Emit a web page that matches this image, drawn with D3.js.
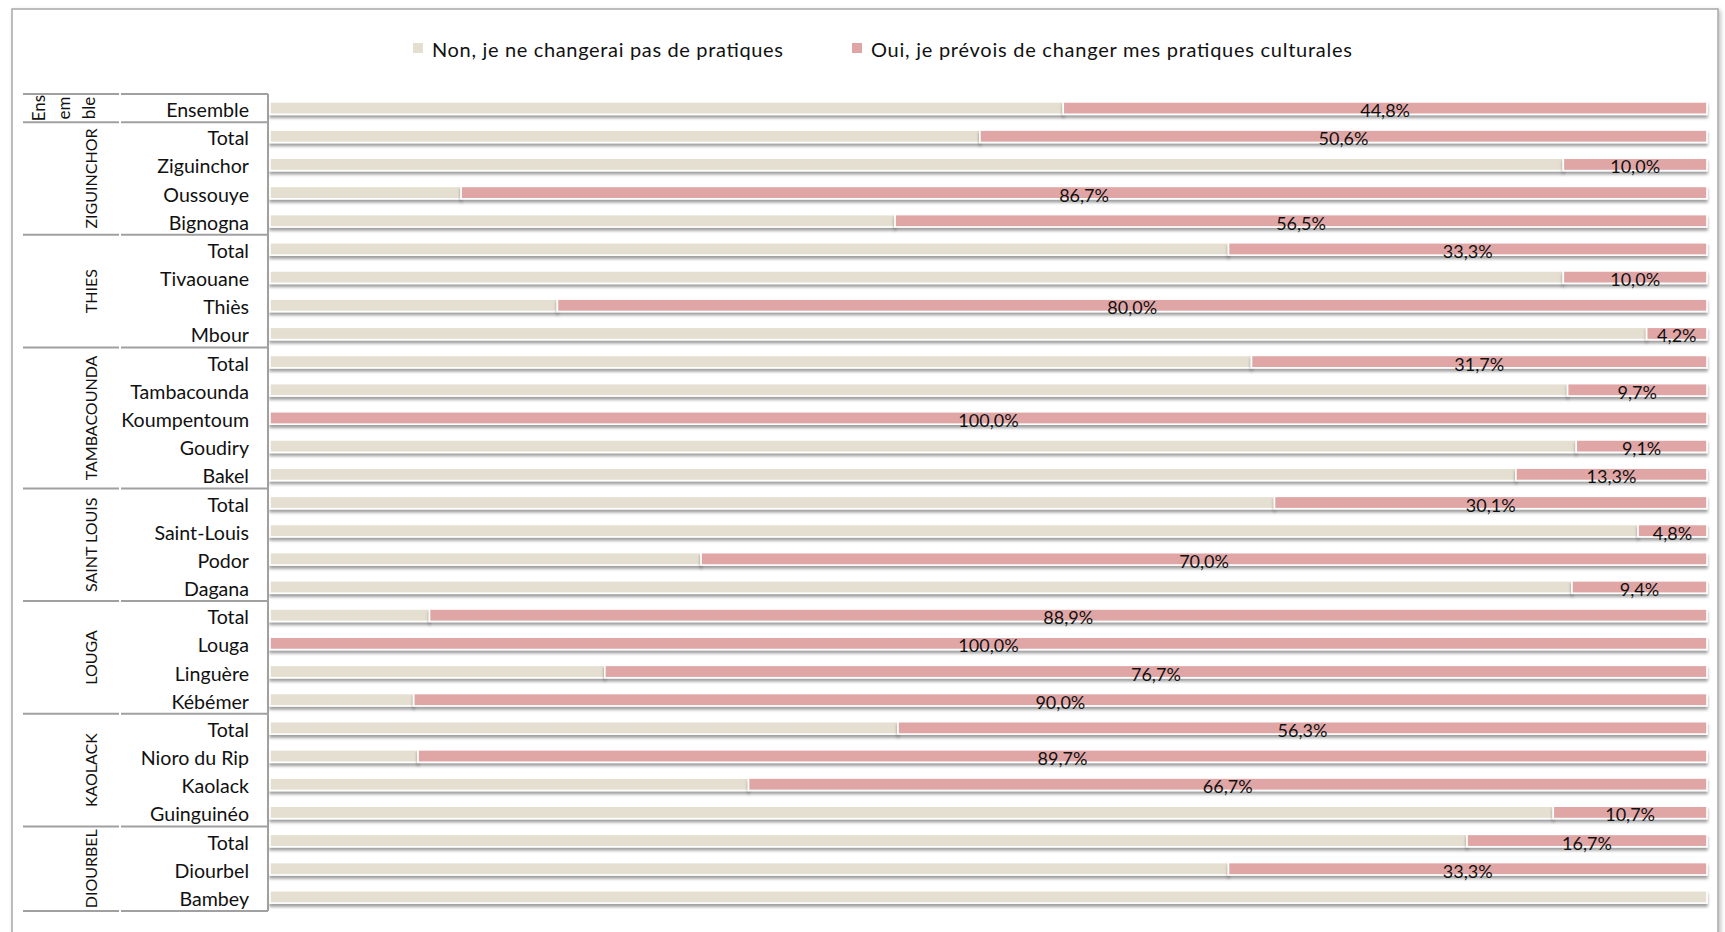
<!DOCTYPE html>
<html><head><meta charset="utf-8">
<script src="https://cdn.jsdelivr.net/npm/d3@7"></script>
<style>
html,body{margin:0;padding:0;background:#fff;}
text{font-family:Lato,"Liberation Sans",sans-serif;fill:#111;}
</style></head>
<body>
<svg id="chart" width="1725" height="932"></svg>
<script>
const seriesNames = ["Non, je ne changerai pas de pratiques", "Oui, je prévois de changer mes pratiques culturales"];
const seriesColors = ["#E4DFD0", "#E0A6A6"];
const groupNames = [["Ens","em","ble"], ["ZIGUINCHOR"], ["THIES"], ["TAMBACOUNDA"], ["SAINT LOUIS"], ["LOUGA"], ["KAOLACK"], ["DIOURBEL"]];
const groupSizes = [1, 4, 4, 5, 4, 4, 4, 3];
const categories = ["Ensemble",
  "Total","Ziguinchor","Oussouye","Bignogna",
  "Total","Tivaouane","Thiès","Mbour",
  "Total","Tambacounda","Koumpentoum","Goudiry","Bakel",
  "Total","Saint-Louis","Podor","Dagana",
  "Total","Louga","Linguère","Kébémer",
  "Total","Nioro du Rip","Kaolack","Guinguinéo",
  "Total","Diourbel","Bambey"];
const nonValues = [55.2,
  49.4,90.0,13.3,43.5,
  66.7,90.0,20.0,95.8,
  68.3,90.3,0.0,90.9,86.7,
  69.9,95.2,30.0,90.6,
  11.1,0.0,23.3,10.0,
  43.7,10.3,33.3,89.3,
  83.3,66.7,100.0];
const ouiValues = [44.8,
  50.6,10.0,86.7,56.5,
  33.3,10.0,80.0,4.2,
  31.7,9.7,100.0,9.1,13.3,
  30.1,4.8,70.0,9.4,
  88.9,100.0,76.7,90.0,
  56.3,89.7,66.7,10.7,
  16.7,33.3,0.0];

const svg = d3.select("#chart");
const defs = svg.append("defs");
const f = defs.append("filter").attr("id","sh").attr("x","-5%").attr("y","-50%").attr("width","110%").attr("height","250%");
f.append("feDropShadow").attr("dx",0).attr("dy",3).attr("stdDeviation",1.6).attr("flood-color","#000").attr("flood-opacity",0.38);
const f2 = defs.append("filter").attr("id","fsh").attr("x","-5%").attr("y","-5%").attr("width","110%").attr("height","110%");
f2.append("feDropShadow").attr("dx",2).attr("dy",2).attr("stdDeviation",2).attr("flood-color","#000").attr("flood-opacity",0.25);

// frame
svg.append("rect").attr("x",12).attr("y",9).attr("width",1706).attr("height",960)
  .attr("fill","#fff").attr("stroke","#a8a8a8").attr("stroke-width",1.5).attr("filter","url(#fsh)");

const idx = categories.map((d,i)=>i);
const top0 = 94, bottom0 = 911;
const y = d3.scaleBand().domain(idx).range([top0, bottom0]).paddingInner(0.56).paddingOuter(0.28);
const x = d3.scaleLinear().domain([0,100]).range([270, 1707]);

// stacked data
const rows = idx.map(i => ({i, non: nonValues[i], oui: ouiValues[i]}));
const stack = d3.stack().keys(["non","oui"])(rows);

const barsG = svg.append("g");
stack.forEach((layer, k) => {
  barsG.append("g").attr("fill", seriesColors[k]).selectAll("rect")
    .data(layer.filter(d => d[1]-d[0] > 0))
    .join("rect")
    .attr("x", d => x(d[0]))
    .attr("y", d => y(d.data.i))
    .attr("width", d => x(d[1]) - x(d[0]))
    .attr("height", y.bandwidth())
    .attr("stroke","#fff").attr("stroke-width",1.6)
    .attr("filter","url(#sh)");
});

// data labels for Oui
const fmt = v => v.toFixed(1).replace(".", ",") + "%";
svg.append("g").selectAll("text")
  .data(stack[1].filter(d => d[1]-d[0] > 0))
  .join("text")
  .attr("x", d => (x(d[0]) + x(d[1]))/2)
  .attr("y", d => y(d.data.i) + y.bandwidth()/2 + 2)
  .attr("text-anchor","middle").attr("dominant-baseline","central")
  .attr("font-size",18)
  .text(d => fmt(d[1]-d[0]));

// category labels
svg.append("g").selectAll("text").data(idx).join("text")
  .attr("x", 249)
  .attr("y", i => y(i) + y.bandwidth()/2 + 1.5)
  .attr("text-anchor","end").attr("dominant-baseline","central")
  .attr("font-size",19.6)
  .text(i => categories[i]);

// table lines
const lineColor = "#a0a0a0";
const boundaries = [0];
let acc = 0;
groupSizes.forEach(n => { acc += n; boundaries.push(acc); });
const yB = b => top0 + (bottom0 - top0) * b / categories.length;
const tg = svg.append("g").attr("stroke", lineColor).attr("stroke-width", 2);
boundaries.forEach((b) => {
  const yy = yB(b);
  tg.append("line").attr("x1", 23).attr("x2", 119).attr("y1", yy).attr("y2", yy);
  tg.append("line").attr("x1", 121).attr("x2", 268).attr("y1", yy).attr("y2", yy);
});
tg.append("line").attr("x1", 268).attr("x2", 268).attr("y1", top0).attr("y2", bottom0);

// group labels
let start = 0;
groupSizes.forEach((n, j) => {
  const cy = (yB(start) + yB(start + n)) / 2;
  const lines = groupNames[j];
  const lineH = 25;
  const multi = lines.length > 1;
  const cx = multi ? 38 : 90;
  const t = svg.append("text")
    .attr("transform", `translate(${cx},${cy}) rotate(-90)`)
    .attr("text-anchor","middle").attr("font-size", multi ? 17 : 16);
  lines.forEach((s, k) => {
    t.append("tspan").attr("x",0).attr("y", k*lineH).attr("dominant-baseline","central").text(s);
  });
  start += n;
});

// legend
const legend = svg.append("g");
const legX = [413, 852];
const legW = [351, 481];
seriesNames.forEach((s, k) => {
  legend.append("rect").attr("x", legX[k]).attr("y", 43).attr("width", 10).attr("height", 10).attr("fill", seriesColors[k]);
  legend.append("text").attr("x", legX[k] + 19).attr("y", 49).attr("dominant-baseline","central")
    .attr("font-size", 20).attr("textLength", legW[k]).attr("lengthAdjust","spacing").text(s);
});
</script>
</body></html>
